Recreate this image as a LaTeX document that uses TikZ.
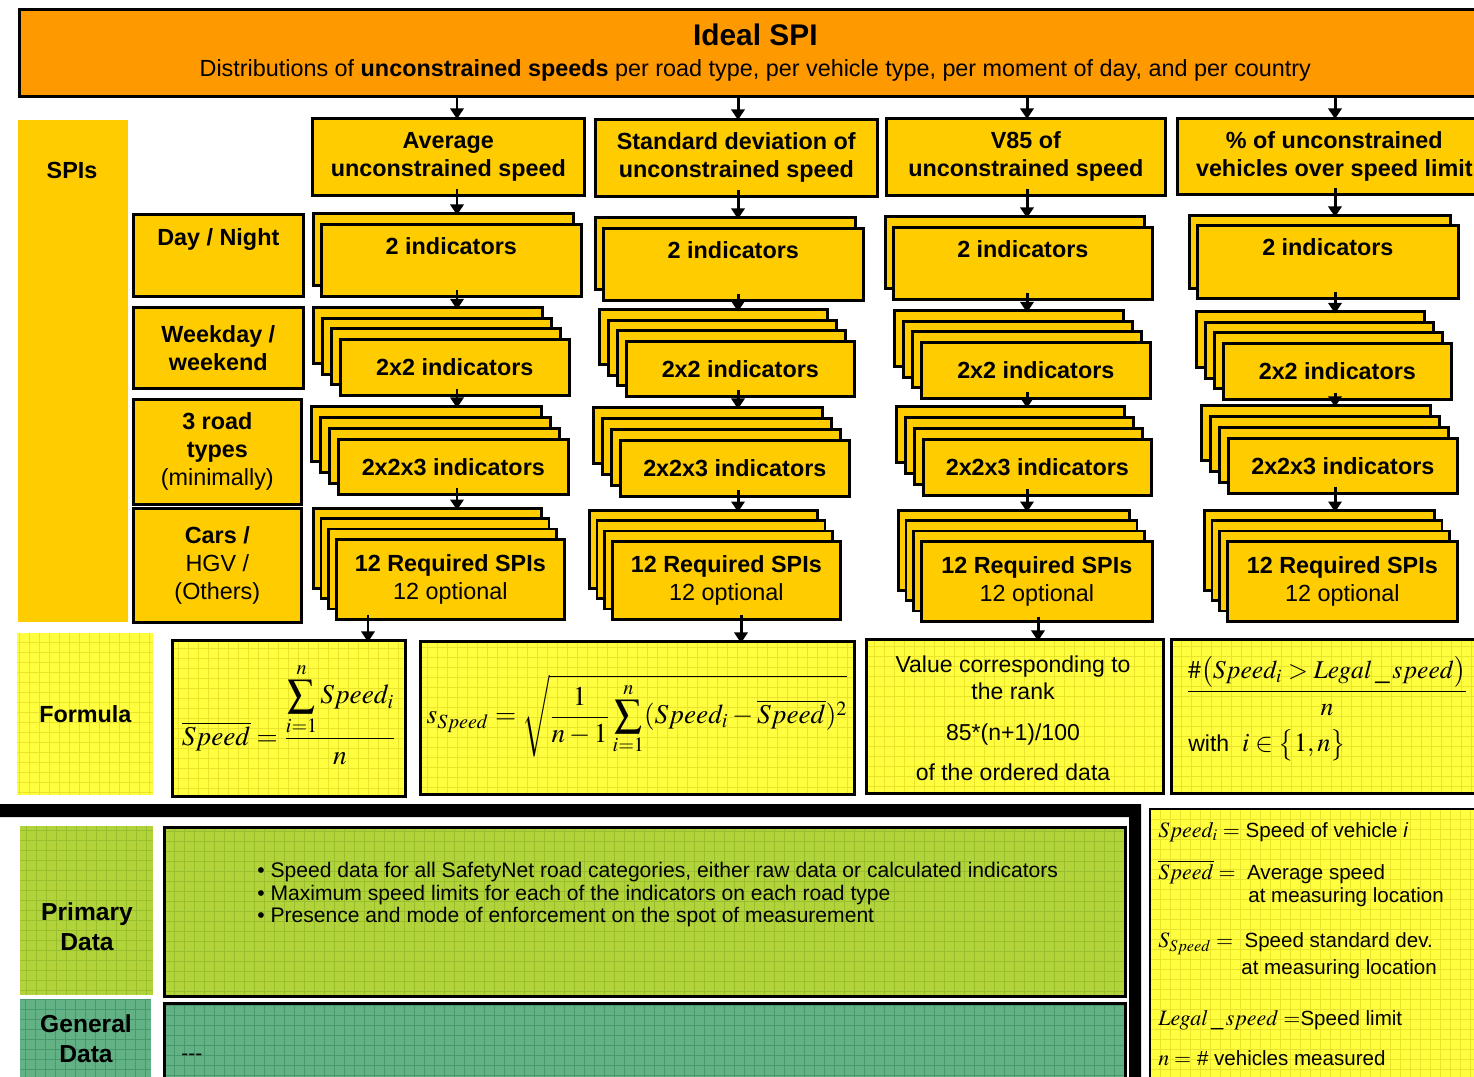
\documentclass[tikz,border=0pt]{standalone}
\usepackage{mathptmx}
\usepackage[no-math]{fontspec}
\setmainfont{Liberation Sans}
\usetikzlibrary{arrows.meta,calc}

\definecolor{titleorange}{RGB}{255,153,0}
\definecolor{spiyellow}{RGB}{255,204,0}
\definecolor{formyellow}{RGB}{255,255,64}
\definecolor{formgrid}{RGB}{234,228,44}
\definecolor{primgreen}{RGB}{178,212,58}
\definecolor{primgrid}{RGB}{152,192,46}
\definecolor{genteal}{RGB}{98,178,134}
\definecolor{gengrid}{RGB}{72,152,110}

\newcommand{\spifont}{\fontsize{13.3}{15.9}\selectfont\bfseries}
\newcommand{\lgm}[1]{{\fontsize{12.5}{14}\selectfont$#1$}}

% stacked boxes: name, count, left, top, width, height, dx, dy, text
\newcommand{\spistack}[9]{%
  \foreach \nb in {#2,...,2} {
    \node[spibox, sz={#5}{#6}] (#1-\nb) at ({#3-(\nb-1)*#7},{#4-(\nb-1)*#8}) {};
  }
  \node[spibox, sz={#5}{#6}] (#1) at (#3,#4) {#9};
}

\tikzset{
  sz/.style 2 args={minimum width=#1*0.02cm, minimum height=#2*0.02cm},
  spibox/.style={draw, line width=1.5pt, fill=spiyellow, anchor=north west,
    inner sep=0pt, align=center, font=\spifont},
  txbox/.style 2 args={fill=#1, path picture={
    \draw[#2, line width=0.6pt, xstep=0.2cm, ystep=0.2cm]
      (path picture bounding box.south west) grid (path picture bounding box.north east);}},
  arr/.style={line width=1.7pt, -{Triangle[length=6pt, width=7.5pt]}},
  lgtxt/.style={anchor=west, inner sep=0pt, font=\fontsize{11.7}{14}\selectfont},
}

\begin{document}
\begin{tikzpicture}[x=0.02cm, y=-0.02cm]
  \useasboundingbox (0,0) rectangle (1474,1077);
  \clip (0,0) rectangle (1474,1077);

  % Title
  \node[draw, line width=1.5pt, fill=titleorange, anchor=north west, sz={1472}{87},
    inner sep=0pt, align=center, font=\fontsize{13.3}{17.6}\selectfont] (title) at (18,8)
    {{\fontsize{17}{20}\selectfont\bfseries Ideal SPI}\\
     Distributions of \textbf{unconstrained speeds} per road type, per vehicle type, per moment of day, and per country};

  % SPIs column and row labels
  \node[fill=spiyellow, anchor=north west, sz={110}{502}] (spis) at (18,120) {};
  \node[font=\spifont] (spist) at (72,170) {SPIs};
  \node[spibox, sz={170}{82}] (day) at (132,213) {Day / Night\\\strut};
  \node[spibox, sz={170}{81}] (week) at (132,306) {Weekday /\\weekend};
  \node[spibox, sz={168}{105}] (road) at (132,398) {3 road\\types\\{\mdseries (minimally)}};
  \node[spibox, sz={168}{114}] (cars) at (132,507) {Cars /\\{\mdseries HGV /}\\{\mdseries (Others)}};

  % Column headers
  \node[spibox, sz={272}{77}] (hA) at (311,117) {Average\\unconstrained speed};
  \node[spibox, sz={282}{77}] (hB) at (594,118) {Standard deviation of\\unconstrained speed};
  \node[spibox, sz={279}{77}] (hC) at (885,117) {V85 of\\unconstrained speed};
  \node[spibox, sz={314}{76}] (hD) at (1176,117) {\% of unconstrained\\vehicles over speed limit};

  % Stacks, column A
  \spistack{tA}{2}{320}{223}{260}{72}{8}{11}{2 indicators\\[-4pt]\strut}
  \spistack{qA}{4}{339}{338}{229}{56}{9}{10.5}{2x2 indicators}
  \spistack{rA}{4}{337}{438}{230}{55}{9}{11}{2x2x3 indicators}
  \spistack{sA}{4}{335}{538}{228}{80}{7.7}{10.3}{12 Required SPIs\\{\mdseries 12 optional}}

  % Stacks, column B
  \spistack{tB}{2}{602}{227}{260}{72}{8}{11}{2 indicators\\[-4pt]\strut}
  \spistack{qB}{4}{625}{340}{228}{55}{9}{10.5}{2x2 indicators}
  \spistack{rB}{4}{619}{439}{229}{56}{9}{11}{2x2x3 indicators}
  \spistack{sB}{4}{611}{540}{228}{78}{7.7}{10.3}{12 Required SPIs\\{\mdseries 12 optional}}

  % Stacks, column C
  \spistack{tC}{2}{892}{226}{259}{72}{8}{11}{2 indicators\\[-4pt]\strut}
  \spistack{qC}{4}{920}{341}{229}{56}{9}{10.5}{2x2 indicators}
  \spistack{rC}{4}{922}{438}{228}{56}{9}{11}{2x2x3 indicators}
  \spistack{sC}{4}{920}{540}{231}{80}{7.7}{10.3}{12 Required SPIs\\{\mdseries 12 optional}}

  % Stacks, column D
  \spistack{tD}{2}{1196}{224}{261}{73}{8}{10}{2 indicators\\[-4pt]\strut}
  \spistack{qD}{4}{1222}{342}{228}{56}{9}{10.5}{2x2 indicators}
  \spistack{rD}{4}{1227}{437}{229}{55}{9}{11}{2x2x3 indicators}
  \spistack{sD}{4}{1226}{540}{230}{80}{7.7}{10.3}{12 Required SPIs\\{\mdseries 12 optional}}

  % Arrows down the columns
  \coordinate (xA) at (457,0);
  \coordinate (xB) at (738,0);
  \coordinate (xC) at (1027,0);
  \coordinate (xD) at (1335,0);
  \foreach \c in {A,B,C,D} {
    \draw[arr] (title.south -| x\c) -- ($(h\c.north -| x\c)+(0,2)$);
    \draw[arr] ($(h\c.south -| x\c)+(0,-8)$) -- ($(t\c-2.north -| x\c)+(0,3)$);
    \draw[arr] ($(t\c.south -| x\c)+(0,-8)$) -- ($(q\c-4.north -| x\c)+(0,3)$);
    \draw[arr] ($(q\c.south -| x\c)+(0,-8)$) -- ($(r\c-4.north -| x\c)+(0,3)$);
    \draw[arr] ($(r\c.south -| x\c)+(0,-8)$) -- ($(s\c-4.north -| x\c)+(0,3)$);
  }

  % Formula row
  \node[txbox={formyellow}{formgrid}, anchor=north west, sz={136}{162}, font=\spifont] (flbl) at (17,633) {Formula};
  \node[txbox={formyellow}{formgrid}, draw, line width=1.5pt, anchor=north west, sz={233}{156}] (fA) at (171,639) {};
  \node[txbox={formyellow}{formgrid}, draw, line width=1.5pt, anchor=north west, sz={434}{153}] (fB) at (419,640) {};
  \node[txbox={formyellow}{formgrid}, draw, line width=1.5pt, anchor=north west, sz={297}{154}] (fC) at (865,638) {};
  \node[txbox={formyellow}{formgrid}, draw, line width=1.5pt, anchor=north west, sz={320}{154}] (fD) at (1170,638) {};

  \node[font=\fontsize{15.5}{18}\selectfont] (fAt) at (289,714)
    {$\displaystyle \overline{Speed} = \frac{\displaystyle\sum_{i=1}^{n} Speed_i}{n}$};
  \node[font=\fontsize{15.5}{18}\selectfont] (fBt) at (637,716)
    {$\displaystyle s_{Speed} = \sqrt{\frac{1}{n-1}\sum_{i=1}^{n}(Speed_i - \overline{Speed})^2}$};
  \node[align=center, font=\fontsize{13.1}{15.9}\selectfont] (fCt) at (1013,718)
    {Value corresponding to\\the rank\\[7pt]85*(n+1)/100\\[7pt]of the ordered data};
  \node[font=\fontsize{14.6}{18}\selectfont] (fDt) at (1327,686)
    {$\displaystyle \frac{\#\bigl(Speed_i > Legal\,\_\,speed\bigr)}{n}$};
  \node[anchor=west, inner sep=0pt, font=\fontsize{13.1}{15.9}\selectfont] (fDw) at (1188,745)
    {with\ \ {\fontsize{15}{18}\selectfont$i \in \bigl\{1,n\bigr\}$}};

  \coordinate (fxA) at (368,0);
  \coordinate (fxB) at (741,0);
  \coordinate (fxC) at (1038,0);
  \foreach \c in {A,B,C}
    \draw[arr] ($(s\c.south -| fx\c)+(0,-6)$) -- ($(f\c.north -| fx\c)+(0,3)$);

  % Separator
  \fill (0,804) -- (1141,804) -- (1141,1080) -- (1129,1080) -- (1129,817) -- (0,817) -- cycle;

  % Data rows
  \node[txbox={primgreen}{primgrid}, anchor=north west, sz={133}{169}] (plbl) at (20,826) {};
  \node[align=center, font=\fontsize{14}{17}\selectfont\bfseries] (plblt) at (87,927) {Primary\\Data};
  \node[txbox={primgreen}{primgrid}, draw, line width=1.5pt, anchor=north west, sz={961}{169}] (prim) at (163,826) {};
  \node[anchor=west, inner sep=0pt, align=left, font=\fontsize{12}{12.8}\selectfont] (primt) at (257,895)
    {\textbullet\ Speed data for all SafetyNet road categories, either raw data or calculated indicators\\
     \textbullet\ Maximum speed limits for each of the indicators on each road type\\
     \textbullet\ Presence and mode of enforcement on the spot of measurement};

  \node[txbox={genteal}{gengrid}, anchor=north west, sz={131}{80}] (glbl) at (20,999) {};
  \node[align=center, font=\fontsize{14}{17}\selectfont\bfseries] (glblt) at (86,1039) {General\\Data};
  \node[txbox={genteal}{gengrid}, draw, line width=1.5pt, anchor=north west, sz={961}{85}] (gen) at (163,1002) {};
  \node[anchor=west, inner sep=0pt, font=\fontsize{12}{14}\selectfont] (gent) at (181,1057) {-{}-{}-};

  % Legend
  \node[txbox={formyellow}{formgrid}, draw, line width=1.2pt, anchor=north west, sz={341}{280}] (legend) at (1149,808) {};
  \node[lgtxt] (lg1) at (1158,832) {\lgm{Speed_i =} Speed of vehicle \textit{i}};
  \node[lgtxt] (lg2) at (1158,872) {\lgm{\overline{Speed} =}\ \ Average speed};
  \node[lgtxt] (lg3) at (1248,897) {at measuring location};
  \node[lgtxt] (lg4) at (1158,944) {\lgm{S_{Speed} =}\ \ Speed standard dev.};
  \node[lgtxt] (lg5) at (1241,969) {at measuring location};
  \node[lgtxt] (lg6) at (1158,1020) {\lgm{Legal\,\_\,speed =}Speed limit};
  \node[lgtxt] (lg7) at (1158,1058) {\lgm{n =}\ \# vehicles measured};
\end{tikzpicture}
\end{document}
